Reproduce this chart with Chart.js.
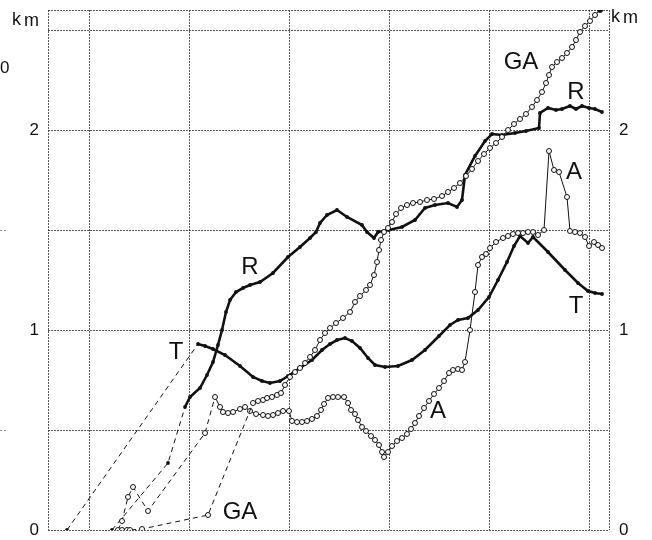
<!DOCTYPE html>
<html>
<head>
<meta charset="utf-8">
<script src="https://cdn.jsdelivr.net/npm/chart.js@4/dist/chart.umd.min.js"></script>
<style>
  html, body { margin: 0; padding: 0; background: #fff; }
  #wrap { width: 652px; height: 540px; }
</style>
</head>
<body>
<div id="wrap"><canvas id="c" width="652" height="540"></canvas></div>
<script>
// Distance (km) against time for four series: T, R, A, GA.
// Each series opens with a dashed lead-in; LEAD_* marks where the solid trace begins.

const T_X = [7.8, 20.9, 21.6, 22.4, 23.6, 25.1, 26.4, 27.3, 28.1, 29.1, 29.9, 31.1, 32.3, 33.3, 34.1, 34.8, 35.6, 36.3, 37.1, 37.9, 38.6, 39.6, 40.9, 42.3, 43.6, 45.0, 46.1, 46.9, 47.9, 48.9, 50.0, 50.9, 51.8, 52.5, 53.1, 53.9, 54.4, 55.9, 57.6, 58.9, 59.9, 60.6, 61.3];
const T_Y = [0, 0.93, 0.92, 0.905, 0.875, 0.82, 0.765, 0.745, 0.735, 0.745, 0.77, 0.81, 0.85, 0.9, 0.93, 0.95, 0.96, 0.945, 0.91, 0.86, 0.825, 0.815, 0.82, 0.85, 0.9, 0.97, 1.025, 1.05, 1.06, 1.1, 1.165, 1.25, 1.34, 1.42, 1.47, 1.435, 1.465, 1.39, 1.3, 1.235, 1.195, 1.185, 1.18];
const LEAD_T = 1;

const R_X = [12.3, 17.9, 19.6, 20.1, 21.1, 21.8, 22.4, 22.9, 23.3, 23.7, 24.1, 24.7, 25.4, 26.1, 27.1, 28.4, 29.9, 31.1, 32.1, 32.7, 33.1, 33.8, 34.8, 35.8, 37.3, 37.8, 38.5, 38.9, 40.0, 41.3, 42.6, 43.6, 44.6, 45.9, 46.8, 47.3, 47.6, 48.6, 49.6, 50.3, 51.3, 52.6, 53.7, 55.0, 55.1, 55.9, 56.7, 57.3, 58.1, 58.7, 59.3, 60.0, 60.6, 61.3];
const R_Y = [0, 0.335, 0.615, 0.665, 0.71, 0.775, 0.84, 0.925, 1.0, 1.09, 1.15, 1.19, 1.21, 1.225, 1.24, 1.285, 1.365, 1.415, 1.46, 1.49, 1.535, 1.575, 1.6, 1.565, 1.525, 1.49, 1.46, 1.49, 1.5, 1.515, 1.55, 1.61, 1.625, 1.635, 1.615, 1.65, 1.775, 1.87, 1.945, 1.98, 1.975, 1.985, 1.995, 2.01, 2.085, 2.11, 2.1, 2.105, 2.12, 2.105, 2.12, 2.11, 2.105, 2.09];
const LEAD_R = 2;

const GA_X = [13.3, 13.8, 14.1, 15.3, 21.9, 26.4, 26.9, 27.4, 27.8, 28.3, 28.8, 29.2, 29.6, 30.1, 30.6, 31.1, 31.6, 32.1, 32.6, 33.1, 33.6, 34.1, 34.7, 35.4, 36.1, 36.6, 37.1, 37.7, 38.1, 38.5, 38.8, 39.0, 39.2, 39.5, 39.9, 40.3, 40.7, 41.2, 41.8, 42.4, 43.1, 43.8, 44.5, 45.3, 45.9, 46.5, 47.1, 47.7, 48.3, 48.9, 49.5, 50.1, 50.7, 51.3, 51.9, 52.5, 53.1, 53.7, 54.3, 54.8, 55.3, 55.7, 56.0, 56.3, 56.8, 57.3, 57.8, 58.3, 58.7, 59.1, 59.6, 60.1, 60.6, 61.1];
const GA_Y = [0, 0, 0, 0.005, 0.075, 0.635, 0.645, 0.65, 0.66, 0.665, 0.675, 0.685, 0.725, 0.765, 0.79, 0.81, 0.835, 0.865, 0.9, 0.95, 0.985, 1.01, 1.035, 1.06, 1.09, 1.14, 1.17, 1.2, 1.225, 1.275, 1.34, 1.4, 1.45, 1.49, 1.51, 1.54, 1.58, 1.61, 1.625, 1.635, 1.64, 1.65, 1.655, 1.67, 1.69, 1.71, 1.735, 1.77, 1.805, 1.845, 1.88, 1.91, 1.935, 1.965, 2.0, 2.03, 2.055, 2.08, 2.115, 2.15, 2.19, 2.235, 2.275, 2.315, 2.34, 2.36, 2.385, 2.415, 2.45, 2.49, 2.52, 2.545, 2.575, 2.6];
const LEAD_GA = 5;

const A_X = [12.9, 13.3, 13.9, 14.4, 15.9, 21.6, 22.6, 23.1, 23.4, 23.9, 24.4, 25.1, 25.6, 26.1, 26.7, 27.4, 27.9, 28.4, 28.9, 29.4, 30.0, 30.3, 30.8, 31.3, 31.8, 32.3, 32.8, 33.2, 33.5, 33.9, 34.4, 34.9, 35.5, 35.9, 36.2, 36.6, 36.9, 37.3, 37.7, 38.2, 38.6, 39.0, 39.3, 39.5, 39.9, 40.3, 40.8, 41.3, 41.8, 42.2, 42.6, 43.0, 43.5, 44.0, 44.5, 45.0, 45.5, 46.0, 46.4, 46.9, 47.3, 47.6, 48.1, 48.6, 48.9, 49.3, 49.7, 50.1, 50.7, 51.4, 51.9, 52.4, 52.9, 53.4, 53.9, 54.4, 54.9, 55.5, 56.0, 56.5, 57.0, 57.8, 58.1, 58.6, 59.1, 59.6, 60.0, 60.5, 60.9, 61.3];
const A_Y = [0, 0.045, 0.165, 0.215, 0.095, 0.485, 0.665, 0.615, 0.59, 0.585, 0.59, 0.605, 0.615, 0.595, 0.58, 0.575, 0.57, 0.575, 0.585, 0.595, 0.595, 0.545, 0.54, 0.54, 0.545, 0.555, 0.57, 0.6, 0.63, 0.66, 0.665, 0.665, 0.665, 0.635, 0.6, 0.58, 0.55, 0.515, 0.495, 0.47, 0.45, 0.425, 0.39, 0.365, 0.39, 0.42, 0.445, 0.46, 0.48, 0.505, 0.535, 0.57, 0.61, 0.645, 0.68, 0.71, 0.745, 0.785, 0.8, 0.805, 0.8, 0.84, 1.0, 1.19, 1.325, 1.365, 1.38, 1.41, 1.44, 1.46, 1.47, 1.48, 1.485, 1.485, 1.49, 1.49, 1.475, 1.5, 1.895, 1.8, 1.79, 1.665, 1.495, 1.49, 1.485, 1.465, 1.42, 1.44, 1.425, 1.41];
const LEAD_A = 6;

// Axis ticks (km) and the time grid
const Y_TICKS = [0, 0.5, 1, 1.5, 2, 2.5, 2.6];
const Y_LABELED = [0, 1, 2];
const X_TICKS = [5.9, 10, 20, 30, 40, 50, 60, 62];

// Curve labels, placed in data units
const LABEL_TEXT = ['GA', 'R', 'A', 'T', 'R', 'T', 'A', 'GA'];
const LABEL_X = [53.2, 58.7, 58.5, 58.7, 26.1, 18.7, 44.9, 25.1];
const LABEL_Y = [2.34, 2.19, 1.79, 1.12, 1.315, 0.89, 0.595, 0.09];

const INK = '#111';
const FONT = '"Liberation Sans", Arial, Helvetica, sans-serif';

function zip(xs, ys) {
  const n = Math.min(xs.length, ys.length);
  const out = [];
  for (let i = 0; i < n; i++) out.push({ x: xs[i], y: ys[i] });
  return out;
}

function leadSegment(lead, solidWidth) {
  return {
    borderDash: ctx => ctx.p0DataIndex < lead ? [5, 4] : [],
    borderWidth: ctx => ctx.p0DataIndex < lead ? 1 : solidWidth
  };
}

function filledSeries(label, xs, ys, lead) {
  return {
    label, data: zip(xs, ys),
    borderColor: INK, borderWidth: 2.6,
    pointRadius: 1.9, pointBackgroundColor: INK, pointBorderColor: INK, pointBorderWidth: 0,
    tension: 0, segment: leadSegment(lead, 2.6)
  };
}

function openSeries(label, xs, ys, lead, filledLast) {
  const last = Math.min(xs.length, ys.length) - 1;
  return {
    label, data: zip(xs, ys),
    borderColor: INK, borderWidth: 1,
    pointRadius: 2.5, pointBorderWidth: 1, pointBorderColor: INK,
    pointBackgroundColor: ctx => (filledLast && ctx.dataIndex === last) ? INK : '#fff',
    tension: 0, segment: leadSegment(lead, 1)
  };
}

const annotate = {
  id: 'annotate',
  afterDatasetsDraw(chart) {
    const { ctx, scales: { x, y } } = chart;
    ctx.save();
    ctx.fillStyle = INK;
    ctx.textAlign = 'center';
    ctx.textBaseline = 'middle';
    ctx.font = '24px ' + FONT;
    for (let i = 0; i < LABEL_TEXT.length; i++) {
      ctx.fillText(LABEL_TEXT[i], x.getPixelForValue(LABEL_X[i]), y.getPixelForValue(LABEL_Y[i]));
    }
    // unit captions at the top of both axes
    ctx.font = '18px ' + FONT;
    ctx.textAlign = 'left';
    ctx.fillText('k', 12, 20);
    ctx.fillText('m', 24, 21);
    ctx.fillText('k', 611, 17);
    ctx.fillText('m', 623, 18);
    // neighbouring panel's edge
    ctx.font = '17px ' + FONT;
    ctx.fillText('0', 0, 68);
    ctx.strokeStyle = 'rgba(60,60,60,0.6)';
    ctx.lineWidth = 1;
    ctx.setLineDash([2, 2]);
    ctx.beginPath();
    ctx.moveTo(0, 230.5); ctx.lineTo(7, 230.5);
    ctx.moveTo(0, 430.5); ctx.lineTo(7, 430.5);
    ctx.stroke();
    ctx.restore();
  }
};

const yTickLabel = v => Y_LABELED.includes(v) ? String(v) : '';

// keep the km axes from reserving room for half a label above and below
function fixedSide(width) {
  return s => { s.width = width; s.paddingTop = 0; s.paddingBottom = 0; };
}

new Chart(document.getElementById('c'), {
  type: 'line',
  data: {
    datasets: [
      openSeries('GA', GA_X, GA_Y, LEAD_GA, true),
      openSeries('A', A_X, A_Y, LEAD_A, false),
      filledSeries('T', T_X, T_Y, LEAD_T),
      filledSeries('R', R_X, R_Y, LEAD_R)
    ]
  },
  options: {
    responsive: false,
    animation: false,
    devicePixelRatio: 1,
    layout: { padding: { top: 10, bottom: 10, left: 0, right: 0 } },
    plugins: { legend: { display: false }, tooltip: { enabled: false }, title: { display: false } },
    scales: {
      x: {
        type: 'linear', min: 5.9, max: 62,
        afterBuildTicks: s => { s.ticks = X_TICKS.map(v => ({ value: v })); },
        afterFit: s => { s.height = 0; s.paddingLeft = 0; s.paddingRight = 0; },
        ticks: { display: false },
        grid: { drawTicks: false, color: 'rgba(45,45,45,0.8)', lineWidth: 1 },
        border: { display: false, dash: [2, 1] }
      },
      y: {
        type: 'linear', position: 'left', min: 0, max: 2.6,
        afterBuildTicks: s => { s.ticks = Y_TICKS.map(v => ({ value: v })); },
        afterFit: fixedSide(48),
        ticks: { autoSkip: false, padding: 9, color: INK, font: { family: FONT, size: 17 }, callback: yTickLabel },
        grid: { drawTicks: false, color: 'rgba(45,45,45,0.8)', lineWidth: 1 },
        border: { display: false, dash: [2, 1] }
      },
      y2: {
        type: 'linear', position: 'right', min: 0, max: 2.6,
        afterBuildTicks: s => { s.ticks = Y_TICKS.map(v => ({ value: v })); },
        afterFit: fixedSide(43),
        ticks: { autoSkip: false, padding: 10, color: INK, font: { family: FONT, size: 17 }, callback: yTickLabel },
        grid: { display: false, drawTicks: false },
        border: { display: false }
      }
    }
  },
  plugins: [annotate]
});
</script>
</body>
</html>
